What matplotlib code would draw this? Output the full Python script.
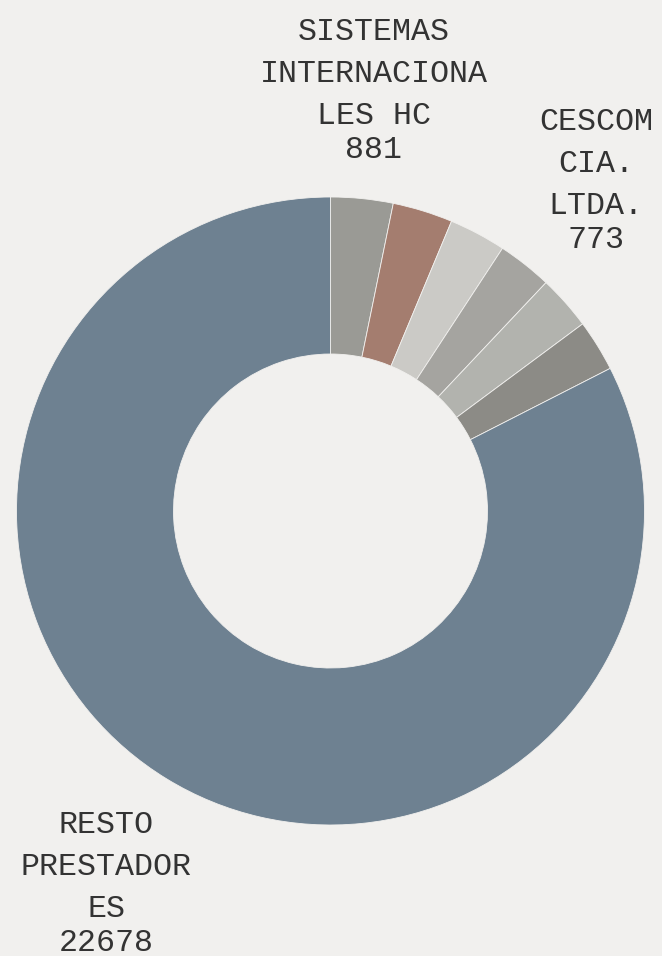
import matplotlib
matplotlib.use("Agg")
import matplotlib.pyplot as plt
import numpy as np

# Data (clockwise from 12 o'clock)
categories = ["SISTEMAS INTERNACIONALES HC", "", "", "CESCOM CIA. LTDA.", "", "", "RESTO PRESTADORES"]
values = [881, 850, 805, 773, 770, 730, 22678]
show_label = [True, False, False, True, False, False, True]
wrapped = [["SISTEMAS", "INTERNACIONA", "LES HC"], [], [], ["CESCOM", "CIA.", "LTDA."], [], [],
           ["RESTO", "PRESTADOR", "ES"]]
colors = ["#9a9a95", "#a47d6f", "#cbcac6", "#a5a4a0", "#b2b3ae", "#8c8b86", "#6e8191"]

BG = "#f1f0ee"
W, H = 662, 956
fig = plt.figure(figsize=(W / 100, H / 100), dpi=100, facecolor=BG)
ax = fig.add_axes([0, 0, 1, 1])
ax.set_xlim(0, W)
ax.set_ylim(0, H)
ax.set_aspect("equal")
ax.axis("off")
ax.set_facecolor(BG)

cx, cy = 330.5, H - 511
R = 314
wedges, _ = ax.pie(values, colors=colors, startangle=90, counterclock=False,
                   center=(cx, cy), radius=R,
                   wedgeprops=dict(width=157, edgecolor=BG, linewidth=0.6))
ax.set_xlim(0, W)
ax.set_ylim(0, H)

font = dict(family="Liberation Mono", fontsize=22.8, color="#333333")
name_gap = 42
val_gap = 34
rl = 429
shift_down = 7
for w, v, show, lines in zip(wedges, values, show_label, wrapped):
    if not show:
        continue
    ang = np.deg2rad((w.theta1 + w.theta2) / 2)
    lx = cx + rl * np.cos(ang)
    ly = cy + rl * np.sin(ang) - shift_down
    all_lines = lines + [str(v)]
    offsets = [i * name_gap for i in range(len(lines))] + [(len(lines) - 1) * name_gap + val_gap]
    mid = (offsets[0] + offsets[-1]) / 2
    for t, o in zip(all_lines, offsets):
        ax.text(lx, ly - (o - mid), t, ha="center", va="center", **font)

fig.savefig("out.png", dpi=100, facecolor=BG)
